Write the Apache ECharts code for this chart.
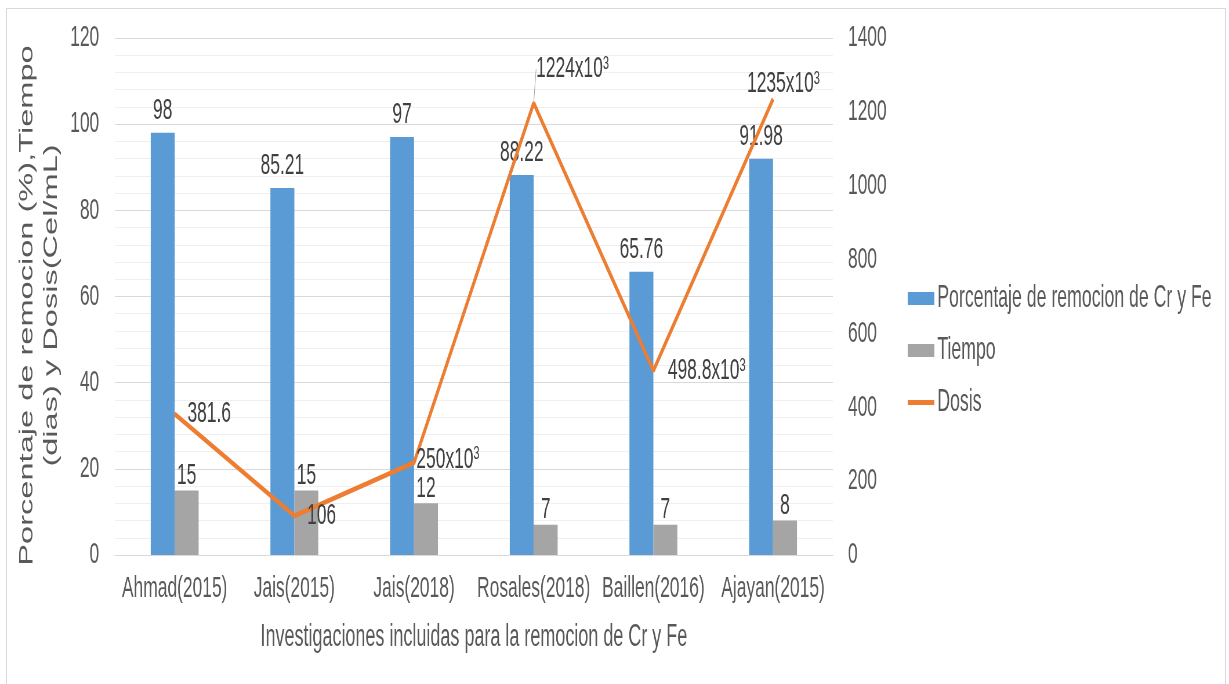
<!DOCTYPE html>
<html><head><meta charset="utf-8">
<script src="https://cdn.jsdelivr.net/npm/echarts@6/dist/echarts.min.js"></script>
<style>
html,body{margin:0;padding:0;overflow:hidden;background:#fff;width:1229px;height:684px;position:relative;}
#frame{position:absolute;left:6px;top:8px;width:1220px;height:690px;border:1px solid #d9d9d9;box-sizing:border-box;}
#chart{position:absolute;left:0;top:0;width:2119px;height:684px;transform:scaleX(0.58);transform-origin:0 0;}
</style></head><body>
<div id="frame"></div>
<div id="chart"></div>
<script>
const categories = ['Ahmad(2015)', 'Jais(2015)', 'Jais(2018)', 'Rosales(2018)', 'Baillen(2016)', 'Ajayan(2015)'];
const porcentaje = [98, 85.21, 97, 88.22, 65.76, 91.98];
const tiempo = [15, 15, 12, 7, 7, 8];
const dosis = [381.6, 106, 250, 1224, 498.8, 1235];
const dosisLabels = ['381.6', '106', '250x10³', '1224x10³', '498.8x10³', '1235x10³'];
const leftTicks = [0, 20, 40, 60, 80, 100, 120];
const rightTicks = [0, 200, 400, 600, 800, 1000, 1200, 1400];
const seriesNames = ['Porcentaje de remocion de Cr y Fe', 'Tiempo', 'Dosis'];
const xTitle = 'Investigaciones incluidas para la remocion de Cr y Fe';
const yTitle = 'Porcentaje de remocion (%),Tiempo\n(dias) y Dosis(Cel/mL)';

const FONT = "'Liberation Sans', Arial, sans-serif";
const dosisLabelCfg = [
  {position: 'right', distance: 22},
  {position: 'right', distance: 22},
  {position: 'right', distance: 4},
  {position: 'top', distance: 5},
  {position: 'right', distance: 25},
  {position: 'top', distance: 5}
];
const dosisLabelShift = {2: {dx: 0, dy: -3}, 3: {dx: 67, dy: -14}, 5: {dx: 18, dy: 5}};

function dosisText(p) {
  const t = dosisLabels[p.dataIndex];
  if (t.endsWith('³')) return '{m|' + t.slice(0, -1) + '}{s|3}';
  return '{m|' + t + '}';
}

const chart = echarts.init(document.getElementById('chart'), null, {renderer: 'canvas'});
chart.setOption({
  animation: false,
  backgroundColor: 'transparent',
  textStyle: {fontFamily: FONT},
  grid: {left: 198, right: 683, top: 38, bottom: 129},
  legend: {
    orient: 'vertical', left: 1560, top: 278, itemGap: 21,
    itemWidth: 46, itemHeight: 13,
    textStyle: {fontSize: 30.5, color: '#595959', fontFamily: FONT},
    data: [
      {name: seriesNames[0], icon: 'rect'},
      {name: seriesNames[1], icon: 'rect'},
      {name: seriesNames[2], icon: 'path://M0,0H46V5H0Z', itemStyle: {color: '#ed7d31'}}
    ]
  },
  xAxis: {
    type: 'category', data: categories,
    axisLine: {lineStyle: {color: '#d9d9d9', width: 1}},
    axisTick: {show: false},
    axisLabel: {interval: 0, fontSize: 30, color: '#595959', margin: 19, fontFamily: FONT},
    name: xTitle, nameLocation: 'middle', nameGap: 67,
    nameTextStyle: {fontSize: 31, color: '#595959', fontFamily: FONT}
  },
  yAxis: [{
    type: 'value', min: leftTicks[0], max: leftTicks[leftTicks.length - 1], interval: 20,
    axisLine: {show: false}, axisTick: {show: false},
    axisLabel: {fontSize: 30, color: '#595959', margin: 27, fontFamily: FONT},
    splitLine: {lineStyle: {color: '#d9d9d9', width: 1}},
    minorTick: {show: false, splitNumber: 5},
    minorSplitLine: {show: true, lineStyle: {color: '#efefef', width: 1}},
    name: yTitle, nameLocation: 'middle', nameRotate: 90, nameGap: 71,
    nameTextStyle: {fontSize: 32.6, lineHeight: 42, color: '#595959', align: 'center',
      padding: [0, 18, 0, 0], fontFamily: FONT}
  }, {
    type: 'value', min: rightTicks[0], max: rightTicks[rightTicks.length - 1], interval: 200,
    position: 'right',
    axisLine: {show: false}, axisTick: {show: false}, splitLine: {show: false},
    axisLabel: {fontSize: 30, color: '#595959', margin: 26, fontFamily: FONT,
      formatter: v => String(v)}
  }],
  series: [{
    name: seriesNames[0], type: 'bar', yAxisIndex: 0, data: porcentaje,
    barWidth: '20%', barGap: '0%',
    itemStyle: {color: '#5b9bd5'},
    label: {show: true, position: 'top', distance: 7, fontSize: 30, color: '#404040', fontFamily: FONT}
  }, {
    name: seriesNames[1], type: 'bar', yAxisIndex: 0, data: tiempo,
    barWidth: '20%', barGap: '0%',
    itemStyle: {color: '#a5a5a5'},
    label: {show: true, position: 'top', distance: 0, fontSize: 30, color: '#404040', fontFamily: FONT}
  }, {
    name: seriesNames[2], type: 'line', yAxisIndex: 1,
    data: dosis.map((v, i) => ({
      value: v,
      label: dosisLabelCfg[i],
      labelLine: {show: i === 3, lineStyle: {color: '#a6a6a6', width: 1}}
    })),
    symbol: 'circle', symbolSize: 0, showSymbol: true,
    lineStyle: {color: '#ed7d31', width: 5},
    itemStyle: {color: '#ed7d31'},
    label: {
      show: true, color: '#404040', fontFamily: FONT,
      formatter: dosisText,
      rich: {
        m: {fontSize: 30, color: '#404040', fontFamily: FONT},
        s: {fontSize: 19, color: '#404040', fontFamily: FONT, verticalAlign: 'top'}
      }
    },
    labelLayout: p => dosisLabelShift[p.dataIndex] || {},
    z: 5
  }]
});
</script>
</body></html>
